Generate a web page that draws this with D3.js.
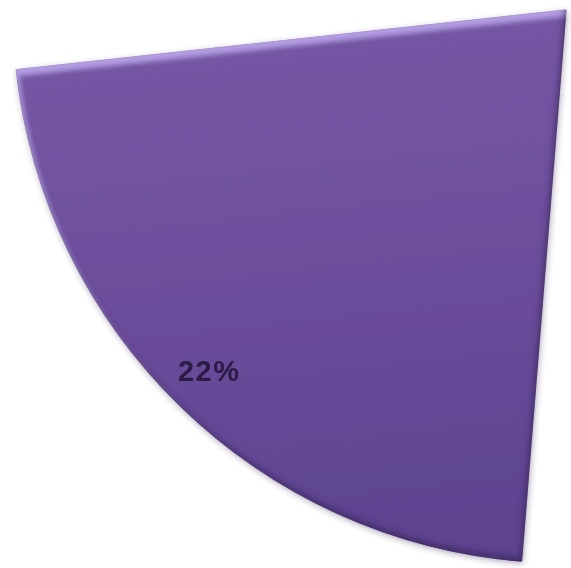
<!DOCTYPE html>
<html>
<head>
<meta charset="utf-8">
<script src="https://cdn.jsdelivr.net/npm/d3@7"></script>
<style>
  html, body { margin: 0; padding: 0; background: #ffffff; }
  svg { display: block; }
</style>
</head>
<body>
<svg id="chart" width="571" height="568"></svg>
<script>
// Shares of the pie; only the labelled share is drawn, the rest falls outside the frame
const categories = ["Share", "Remaining"];
const values = [22, 78];
const labels = ["22%", ""];

const width = 571, height = 568;
const svg = d3.select("#chart");

// Pie centre sits at the upper-right corner; the slice fans out to the lower left
const cx = 566, cy = 10, radius = 553;
const start = 184.6 * Math.PI / 180;

const pie = d3.pie().sort(null).value(d => d).startAngle(start).endAngle(start + 2 * Math.PI);
const arcs = pie(values);
const arc = d3.arc().innerRadius(0).outerRadius(radius);
const labelArc = d3.arc().innerRadius(radius * 0.91).outerRadius(radius * 0.91);

const defs = svg.append("defs");

// body colour: lighter at the top, deeper towards the tip (page coordinates)
const grad = defs.append("linearGradient")
  .attr("id", "sliceFill")
  .attr("gradientUnits", "userSpaceOnUse")
  .attr("x1", 0 - cx).attr("y1", 10 - cy).attr("x2", 60 - cx).attr("y2", 565 - cy);
grad.append("stop").attr("offset", 0).attr("stop-color", "#7858a6");
grad.append("stop").attr("offset", 0.5).attr("stop-color", "#6d4f9c");
grad.append("stop").attr("offset", 1).attr("stop-color", "#5e4490");

// filter regions cover the whole page, expressed in the slice group's coordinates
function pageRegion(f) {
  return f.attr("filterUnits", "userSpaceOnUse")
    .attr("x", -cx - 20).attr("y", -cy - 20)
    .attr("width", width + 40).attr("height", height + 40);
}

// soft outer shadow
const shadow = pageRegion(defs.append("filter").attr("id", "outerShadow"));
shadow.append("feGaussianBlur").attr("in", "SourceAlpha").attr("stdDeviation", 3).attr("result", "b");
shadow.append("feOffset").attr("in", "b").attr("dx", 1).attr("dy", 2).attr("result", "o");
shadow.append("feFlood").attr("flood-color", "#3a2a55").attr("flood-opacity", 0.45);
shadow.append("feComposite").attr("in2", "o").attr("operator", "in");

// bevel: light band on upper edges, dark band on lower edges
const bevel = pageRegion(defs.append("filter").attr("id", "bevel"));
bevel.append("feGaussianBlur").attr("in", "SourceAlpha").attr("stdDeviation", 2.5).attr("result", "b");
bevel.append("feOffset").attr("in", "b").attr("dx", 3).attr("dy", 6).attr("result", "bDown");
bevel.append("feComposite").attr("in", "SourceAlpha").attr("in2", "bDown").attr("operator", "out").attr("result", "topBand");
bevel.append("feFlood").attr("flood-color", "#b9a4ea").attr("flood-opacity", 0.9);
bevel.append("feComposite").attr("in2", "topBand").attr("operator", "in").attr("result", "hi");
bevel.append("feOffset").attr("in", "b").attr("dx", -3).attr("dy", -6).attr("result", "bUp");
bevel.append("feComposite").attr("in", "SourceAlpha").attr("in2", "bUp").attr("operator", "out").attr("result", "botBand");
bevel.append("feFlood").attr("flood-color", "#2f1f52").attr("flood-opacity", 0.55);
bevel.append("feComposite").attr("in2", "botBand").attr("operator", "in").attr("result", "lo");
const merge = bevel.append("feMerge");
merge.append("feMergeNode").attr("in", "SourceGraphic");
merge.append("feMergeNode").attr("in", "hi");
merge.append("feMergeNode").attr("in", "lo");

// slight softness for the label
const soft = defs.append("filter").attr("id", "softText");
soft.append("feGaussianBlur").attr("stdDeviation", 0.5);

const g = svg.append("g").attr("transform", `translate(${cx},${cy})`);
const shown = arcs.filter((d, i) => labels[i] !== "");

g.selectAll("path.shadow")
  .data(shown)
  .join("path")
  .attr("class", "shadow")
  .attr("d", arc)
  .attr("fill", "#000")
  .attr("filter", "url(#outerShadow)");

g.selectAll("path.slice")
  .data(shown)
  .join("path")
  .attr("class", "slice")
  .attr("d", arc)
  .attr("fill", "url(#sliceFill)")
  .attr("stroke", "#4a3470")
  .attr("stroke-width", 0.8)
  .attr("filter", "url(#bevel)");

g.selectAll("text.value")
  .data(shown)
  .join("text")
  .attr("class", "value")
  .attr("transform", d => `translate(${labelArc.centroid(d)})`)
  .attr("text-anchor", "middle")
  .attr("dx", -6)
  .attr("dy", "0.35em")
  .attr("font-family", "Liberation Sans, Arial, sans-serif")
  .attr("font-weight", "bold")
  .attr("font-size", 29)
  .attr("letter-spacing", 1.5)
  .attr("fill", "#2a1a44")
  .attr("filter", "url(#softText)")
  .text(d => labels[d.index]);
</script>
</body>
</html>
